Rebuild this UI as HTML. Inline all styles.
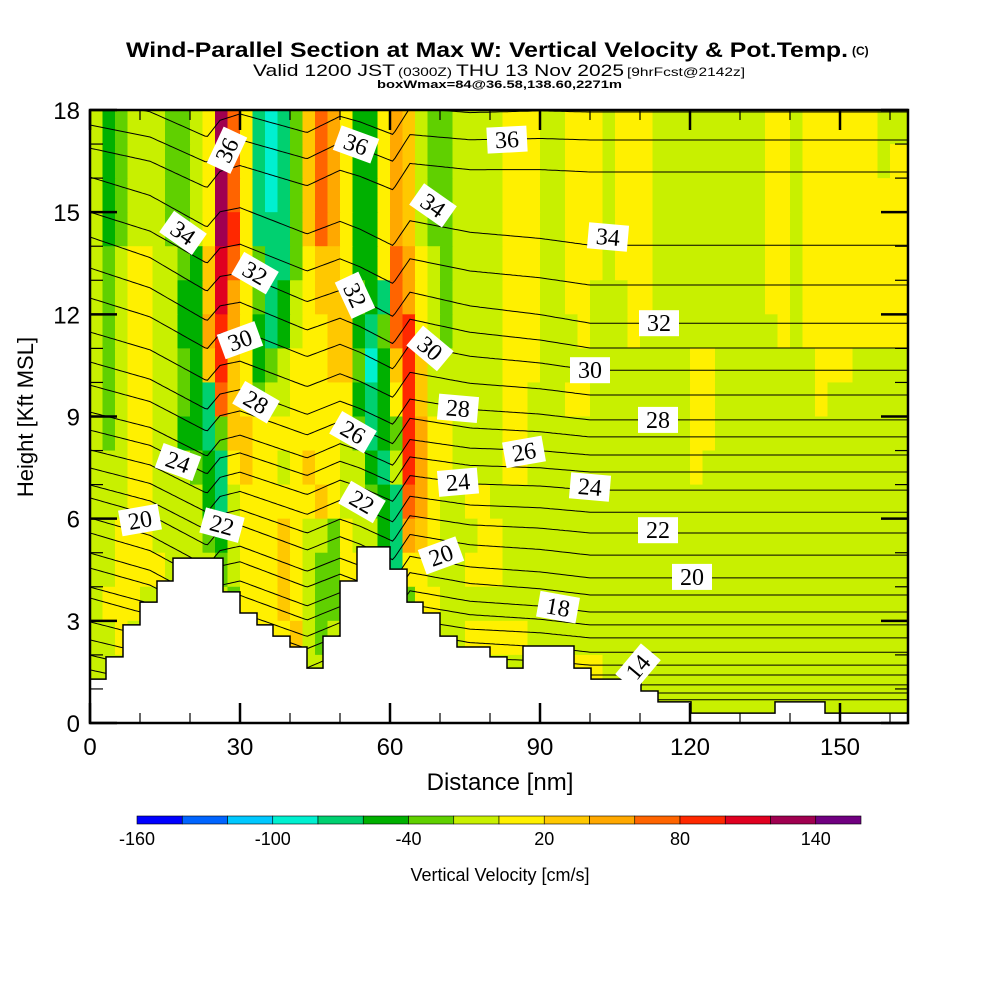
<!DOCTYPE html>
<html><head><meta charset="utf-8">
<style>
html,body{margin:0;padding:0;background:#fff;}
svg{display:block;}
text{font-family:"Liberation Sans",sans-serif;}
.cl{font-family:"Liberation Serif",serif;font-size:24px;}
</style></head>
<body>
<svg id="chart" xmlns="http://www.w3.org/2000/svg" width="1000" height="1000" viewBox="0 0 1000 1000">
<rect x="0" y="0" width="1000" height="1000" fill="#fff"/>
<g>
<text x="126" y="57" font-size="21" font-weight="bold" textLength="722" lengthAdjust="spacingAndGlyphs">Wind-Parallel Section at Max W: Vertical Velocity &amp; Pot.Temp.</text>
<text x="852" y="55" font-size="12" font-weight="bold">(C)</text>
<text x="253" y="76" font-size="17" textLength="142" lengthAdjust="spacingAndGlyphs">Valid 1200 JST</text>
<text x="398" y="76" font-size="12" textLength="54" lengthAdjust="spacingAndGlyphs">(0300Z)</text>
<text x="456" y="76" font-size="17" textLength="168" lengthAdjust="spacingAndGlyphs">THU 13 Nov 2025</text>
<text x="627" y="76" font-size="12" textLength="118" lengthAdjust="spacingAndGlyphs">[9hrFcst@2142z]</text>
<text x="377" y="88" font-size="11" font-weight="bold" textLength="245" lengthAdjust="spacingAndGlyphs">boxWmax=84@36.58,138.60,2271m</text>
</g>
<defs><clipPath id="plotclip"><rect x="90" y="110" width="818" height="613"/></clipPath></defs>
<g id="field" clip-path="url(#plotclip)"></g>
<g id="contours" clip-path="url(#plotclip)"></g>
<g id="terrain"></g>
<g id="labels"></g>
<g id="axes"></g>
<g id="colorbar"></g>
<text x="500" y="790" font-size="24" text-anchor="middle">Distance [nm]</text>
<text transform="translate(33,417) rotate(-90)" font-size="22" text-anchor="middle">Height [Kft MSL]</text>
<text x="500" y="881" font-size="18" text-anchor="middle">Vertical Velocity [cm/s]</text>
</svg>
<script>
// ---- data ----
const colorLevels = [-160,-140,-120,-100,-80,-60,-40,-20,0,20,40,60,80,100,120,140,160];
const colorBarLabels = [-160,-100,-40,20,80,140];
const palette = ["#0000ff","#0064ff","#00c8ff","#00f0d0","#00d070","#00b000","#60d000","#c8f000","#fff000","#ffc800","#ffa800","#ff6400","#ff2800","#e00020","#a00050","#700080"];
const cellNm = 2.5;
const cellKft = 1;
const fieldLeft = [
"7567776678EB843469BA8558A97667777",
"7567776678EB843469BA8558A97667777",
"7567776678EB843469BA8558A97667777",
"7567776678EC844469BA8558A97667777",
"7678877659DB864468998558BA8767777",
"7678877559DA864578999654BA8767777",
"767887755ACA854578899546BC8767777",
"7678877659C98567888996359C9777777",
"7678877654B98677888885458C9777777",
"7678877554699888888876456CA887777",
"7778877765489887898877547CA887777",
"7778877775478888889877654BA877887",
"7788877776578889877687754A9877788",
"778888777767888987668877488777888",
"788877777776888987667877568877777",
"778777777777788897677777778877888",
"777777777777777777777777777777777",
"777777777777777777777777777777777"];
const fieldRight = [
"888778887888777777777887888888777",
"888778887888777777777887888888788",
"888778887888777777777887888888888",
"888778887888777777777887888888888",
"888778887888777777777887888888888",
"888778877788777777777887888888888",
"888777877787777777777787888888888",
"888777777777777887777777788877777",
"887778877777777887777777787777777",
"887777777777777887777777777777777",
"887777777777777877777777777777777",
"777777777777777777777777777777777",
"777777777777777777777777777777777",
"777777777777777777777777777777777",
"777777777777777777777777777777777",
"887777777777777777777777777777777",
"777778887777777777777777777777777",
"777777777777777777777777777777777"];
const terrainBreaks = [0,3.2,6.6,10,13.4,16.6,26.6,30,33.4,36.6,40,43.4,46.6,50,53.4,60,63.4,66.6,70,73.4,80,83.4,86.6,96.8,100.2,110.2,113.6,120.2,137,147,163.6];
const terrainHeights = [1.29,1.94,2.88,3.55,4.17,4.84,3.85,3.23,2.88,2.55,2.23,1.61,2.55,4.17,5.17,4.52,3.55,3.23,2.55,2.23,1.94,1.61,2.26,1.61,1.29,0.94,0.62,0.29,0.62,0.29];
const thetaLevels = [10,11,12,13,14,15,16,17,18,19,20,21,22,23,24,25,26,27,28,29,30,31,32,33,34,35,36,37];
const thetaLeftKft = [0.97,1.56,1.99,2.44,2.97,3.67,3.99,4.55,4.99,5.58,6.02,6.61,6.99,7.49,8.02,8.60,9.13,9.92,10.60,11.48,12.48,13.36,14.27,15.00,16.03,16.88,17.56,18.29];
const thetaRightKft = [0.68,0.88,1.12,1.41,1.70,2.08,2.50,2.88,3.26,3.76,4.26,4.93,5.58,6.19,6.84,7.37,7.87,8.40,8.90,9.63,10.36,11.01,11.74,12.86,14.03,16.18,17.12,17.94];
const dispNm = [0,12,23.4,26,30,43.4,50,54,60.6,64,76,90,163.6];
const dispKft = [0,0.3,1.0,0.5,0.3,0.8,0.3,0.45,0.8,0,0.1,0,0];
const labelText = ["36","36","36","34","34","34","32","32","32","30","30","30","28","28","28","26","26","24","24","24","22","22","22","20","20","20","18","14"];
const labelNm = [27.4,53.2,83.4,18.6,68.6,103.6,33,53,113.8,30,68,100,33.2,73.6,113.6,52.6,86.8,17.6,73.6,100,26.4,54.4,113.6,10,70.2,120.4,93.6,109.6];
const labelKft = [16.82,16.99,17.13,14.39,15.20,14.27,13.21,12.56,11.74,11.24,11.00,10.36,9.42,9.24,8.90,8.54,7.96,7.66,7.07,6.93,5.81,6.49,5.66,5.96,4.92,4.29,3.40,1.64];
const labelRot = [-65,20,-3,35,35,5,30,65,0,-20,40,0,30,5,0,30,-10,20,-5,5,15,30,0,-10,-20,0,10,-50];
const xTicks = [0,30,60,90,120,150];
const yTicks = [0,3,6,9,12,15,18];

const PX0=90, PX1=908, PY0=723, PY1=110;
const X = d => PX0 + d*5;
const Y = h => PY0 - h*(PY0-PY1)/18;
const NS="http://www.w3.org/2000/svg";
function mk(tag, parent){const e=document.createElementNS(NS,tag);parent.appendChild(e);return e;}

const field=document.getElementById('field');
for(let r=0;r<fieldLeft.length;r++){
  const row=fieldLeft[r]+fieldRight[r];
  for(let c=0;c<row.length;c++){
    const idx=parseInt(row[c],16);
    const rc=mk('rect',field);
    
    
    const x0=X(c*cellNm), x1=X((c+1)*cellNm);
    const y0=Y(18-r*cellKft), y1=Y(18-(r+1)*cellKft);
    rc.setAttribute('x',x0);rc.setAttribute('y',y0);
    rc.setAttribute('width',x1-x0+0.6);rc.setAttribute('height',y1-y0+0.6);
    rc.setAttribute('fill',palette[idx]);
  }
}

function disp(d){
  for(let i=0;i<dispNm.length-1;i++){
    if(d>=dispNm[i]&&d<=dispNm[i+1]){const t=(d-dispNm[i])/(dispNm[i+1]-dispNm[i]);return dispKft[i]+t*(dispKft[i+1]-dispKft[i]);}
  }
  return 0;
}
const cont=document.getElementById('contours');
for(let k=0;k<thetaLevels.length;k++){
  let pts=[];
  for(let d=0;d<=164;d+=0.5){
    const t=Math.min(d/100,1);
    const h=thetaLeftKft[k]+(thetaRightKft[k]-thetaLeftKft[k])*t-disp(d);
    pts.push(X(d).toFixed(1)+','+Y(h).toFixed(1));
  }
  const pl=mk('polyline',cont);
  
  
  pl.setAttribute('points',pts.join(' '));
  pl.setAttribute('fill','none');pl.setAttribute('stroke','#000');pl.setAttribute('stroke-width','1');
}

const ter=document.getElementById('terrain');
let tp=[X(0)+','+Y(0)];
for(let i=0;i<terrainHeights.length;i++){
  tp.push(X(terrainBreaks[i])+','+Y(terrainHeights[i]));
  tp.push(X(terrainBreaks[i+1])+','+Y(terrainHeights[i]));
}
tp.push(PX1+','+Y(0));
const tpoly=mk('polygon',ter);


tpoly.setAttribute('points',tp.join(' '));
tpoly.setAttribute('fill','#fff');tpoly.setAttribute('stroke','#000');tpoly.setAttribute('stroke-width','1.5');

const lab=document.getElementById('labels');
for(let i=0;i<labelText.length;i++){
  const g=mk('g',lab);
  
  
  g.setAttribute('transform','translate('+X(labelNm[i]).toFixed(1)+','+Y(labelKft[i]).toFixed(1)+') rotate('+labelRot[i]+')');
  const b=mk('rect',g);
  b.setAttribute('x',-20);b.setAttribute('y',-13);b.setAttribute('width',40);b.setAttribute('height',26);b.setAttribute('fill','#fff');
  const t=mk('text',g);
  t.setAttribute('class','cl');t.setAttribute('text-anchor','middle');t.setAttribute('y',8);
  t.textContent=labelText[i];
}

const ax=document.getElementById('axes');
const frame=mk('rect',ax);


frame.setAttribute('x',PX0);frame.setAttribute('y',PY1);frame.setAttribute('width',PX1-PX0);frame.setAttribute('height',PY0-PY1);
frame.setAttribute('fill','none');frame.setAttribute('stroke','#000');frame.setAttribute('stroke-width','2.5');
function line(x1,y1,x2,y2,w){const l=mk('line',ax);l.setAttribute('x1',x1);l.setAttribute('y1',y1);l.setAttribute('x2',x2);l.setAttribute('y2',y2);l.setAttribute('stroke','#000');l.setAttribute('stroke-width',w);return l;}
for(let d=0;d<=163;d+=10){
  const major=(d%30===0);const L=major?20:10;
  line(X(d),PY0,X(d),PY0-L,major?2.5:1.2);
  line(X(d),PY1,X(d),PY1+L,major?2.5:1.2);
}
for(let h=0;h<=18;h++){
  const major=(h%3===0);const L=major?27:13;
  line(PX0,Y(h),PX0+L,Y(h),major?2.5:1.2);
  line(PX1,Y(h),PX1-L,Y(h),major?2.5:1.2);
}
for(const v of xTicks){
  const t=mk('text',ax);
  
  
  t.setAttribute('x',X(v));t.setAttribute('y',755);t.setAttribute('font-size','24');t.setAttribute('text-anchor','middle');
  t.textContent=v;
}
for(const v of yTicks){
  const t=mk('text',ax);
  
  
  t.setAttribute('x',80);t.setAttribute('y',Y(v)+9);t.setAttribute('font-size','24');t.setAttribute('text-anchor','end');
  t.textContent=v;
}

const cb=document.getElementById('colorbar');
const CB0=137, CB1=861, CBY=816, CBH=8;
const cbX=v=>CB0+(v-colorLevels[0])*(CB1-CB0)/(colorLevels[colorLevels.length-1]-colorLevels[0]);
for(let i=0;i<palette.length;i++){
  const r=mk('rect',cb);
  
  
  r.setAttribute('x',cbX(colorLevels[i]));r.setAttribute('y',CBY);
  r.setAttribute('width',cbX(colorLevels[i+1])-cbX(colorLevels[i]));r.setAttribute('height',CBH);
  r.setAttribute('fill',palette[i]);r.setAttribute('stroke','#000');r.setAttribute('stroke-width','0.6');
}
for(const v of colorBarLabels){
  const t=mk('text',cb);
  
  
  t.setAttribute('x',cbX(v));t.setAttribute('y',845);t.setAttribute('font-size','18');t.setAttribute('text-anchor','middle');
  t.textContent=v;
}
</script>
</body></html>
